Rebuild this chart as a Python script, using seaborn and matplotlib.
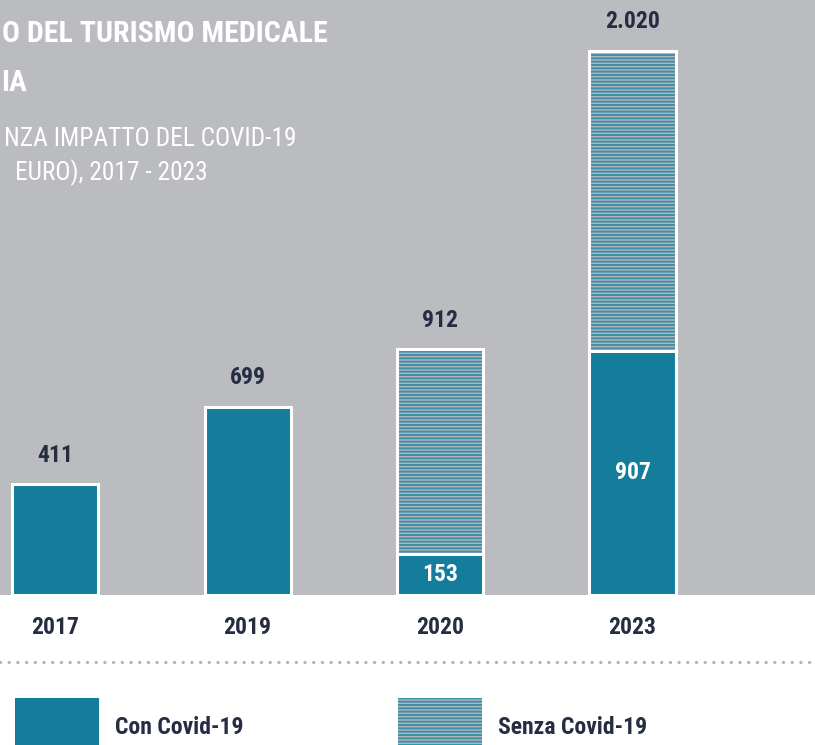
import matplotlib
matplotlib.use("Agg")
import matplotlib.pyplot as plt
import seaborn as sns
import pandas as pd
from matplotlib import font_manager as fm
from matplotlib.patches import Rectangle
from matplotlib.lines import Line2D

# ---- data ----
years = ["2017", "2019", "2020", "2023"]
con_covid = [411, 699, 153, 907]
senza_covid_total = [0, 0, 912, 2020]
top_labels = ["411", "699", "912", "2.020"]
inner_labels = ["", "", "153", "907"]
title_lines = ["O DEL TURISMO MEDICALE", "IA"]
subtitle_lines = ["NZA IMPATTO DEL COVID-19", "EURO), 2017 - 2023"]
legend_labels = ["Con Covid-19", "Senza Covid-19"]

# ---- style ----
sns.set_theme(style="white")
names = {f.name for f in fm.fontManager.ttflist}
FONT = "DejaVu Sans"
for cand in ["Roboto Condensed", "DejaVu Sans Condensed", "Liberation Sans Narrow",
             "Open Sans Condensed", "Roboto"]:
    if cand in names:
        FONT = cand
        break
plt.rcParams["font.family"] = [FONT, "DejaVu Sans"]

BG = "#bbbcc0"
TEAL = "#137d9b"
HATCH = "#3f8ea8"
HFACE = "#b3b7bb"
NAVY = "#262d42"

fig = plt.figure(figsize=(8.15, 7.45), dpi=100)
fig.patch.set_facecolor("white")
ax = fig.add_axes([0, 1 - 595 / 745, 1, 595 / 745])
ax.set_facecolor(BG)

df = pd.DataFrame({"year": years, "con": con_covid, "senza": senza_covid_total})
W = 0.447
plt.rcParams["hatch.linewidth"] = 1.4

sns.barplot(data=df, x="year", y="senza", ax=ax, color=HFACE, width=W,
            edgecolor=HATCH, linewidth=0, hatch="-----", saturation=1)
sns.barplot(data=df, x="year", y="senza", ax=ax, fill=False, width=W,
            edgecolor="white", linewidth=2.2)
sns.barplot(data=df, x="year", y="con", ax=ax, color=TEAL, width=W,
            edgecolor="white", linewidth=2.2, saturation=1)

for p in ax.patches:
    if p.get_height() == 0:
        p.set_visible(False)

ax.set_xlim(-0.286, 3.948)
ax.set_ylim(0, 2209)
ax.set_xlabel("")
ax.set_ylabel("")
ax.set_yticks([])
ax.set_xticks([])
for s in ax.spines.values():
    s.set_visible(False)

renderer = fig.canvas.get_renderer()


def fit(t, target_px, maxsize):
    t.set_fontsize(20)
    w = t.get_window_extent(renderer).width
    t.set_fontsize(min(maxsize, 20 * target_px / w))
    return t


tops = [max(c, s) for c, s in zip(con_covid, senza_covid_total)]
for i, (t, lab) in enumerate(zip(tops, top_labels)):
    tx = ax.annotate(lab, (i, t), xytext=(0, 29), textcoords="offset pixels",
                     ha="center", va="center", color=NAVY, fontweight="bold")
    tx.set_fontsize(17)
for i, (c, lab) in enumerate(zip(con_covid, inner_labels)):
    if lab:
        tx = ax.text(i, c / 2, lab, ha="center", va="center", color="white",
                     fontweight="bold")
        tx.set_fontsize(17)
for i, y in enumerate(years):
    tx = ax.annotate(y, (i, 0), xytext=(0, -32), textcoords="offset pixels",
                     ha="center", va="center", color=NAVY,
                     fontweight="bold", annotation_clip=False)
    tx.set_fontsize(17)

# title / subtitle (left part cut in reference)
t1 = fig.text(328 / 815, 1 - 34 / 745, title_lines[0], ha="right", va="center",
              color="white", fontweight="bold")
fit(t1, 326, 32)
t2 = fig.text(1 / 815, 1 - 83 / 745, title_lines[1], ha="left", va="center",
              color="white", fontweight="bold")
t2.set_fontsize(t1.get_fontsize())
s1 = fig.text(296 / 815, 1 - 139 / 745, subtitle_lines[0], ha="right", va="center",
              color="white")
fit(s1, 292, 22)
s2 = fig.text(208 / 815, 1 - 173 / 745, subtitle_lines[1], ha="right", va="center",
              color="white")
s2.set_fontsize(s1.get_fontsize())

# dotted separator
fig.add_artist(Line2D([0, 1], [1 - 662 / 745] * 2, transform=fig.transFigure,
                      color="#b4b4b4", lw=2.4, linestyle=(0, (0.01, 2.6)),
                      dash_capstyle="round"))

# legend
fig.add_artist(Rectangle((15 / 815, 0), 84 / 815, 47 / 745, transform=fig.transFigure,
                         facecolor=TEAL, edgecolor="none"))
fig.add_artist(Rectangle((398 / 815, 0), 84 / 815, 47 / 745, transform=fig.transFigure,
                         facecolor=HFACE, edgecolor=HATCH, linewidth=0, hatch="-----"))
l1 = fig.text(115 / 815, 1 - 727 / 745, legend_labels[0], ha="left", va="center",
              color=NAVY, fontweight="bold")
l1.set_fontsize(17)
l2 = fig.text(498 / 815, 1 - 727 / 745, legend_labels[1], ha="left", va="center",
              color=NAVY, fontweight="bold")
l2.set_fontsize(17)

fig.savefig("out.png", dpi=100, facecolor="white")
